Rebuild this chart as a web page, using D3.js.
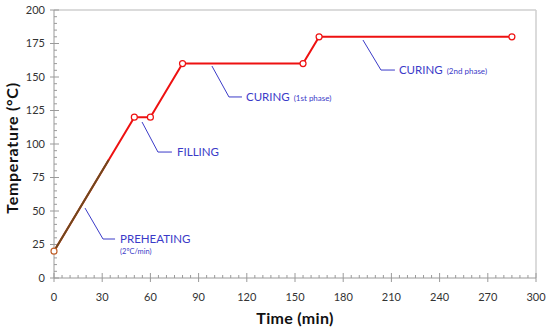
<!DOCTYPE html>
<html><head><meta charset="utf-8">
<script src="https://cdn.jsdelivr.net/npm/d3@7"></script>
<style>body{margin:0;background:#fff}svg{display:block}text{font-family:Lato,"Noto Sans",sans-serif}</style>
</head><body><svg id="c" width="550" height="331"></svg>
<script>
const times = [0, 50, 60, 80, 155, 165, 285];
const temps = [20, 120, 120, 160, 160, 180, 180];
const preheatTimes = [0, 34];
const preheatTemps = [20, 88];
const xTicks = [0,30,60,90,120,150,180,210,240,270,300];
const yTicks = [0,25,50,75,100,125,150,175,200];
// leader lines: start (t0,v0) -> bend (tb,vb) -> end te; text at tt
const labels = [
  {main:"PREHEATING", sub:"(2ºC/min)", t0:19.3, v0:52.2, tb:30.5, vb:29.1, te:38, tt:41.1, subBelow:true},
  {main:"FILLING", sub:"", t0:54.8, v0:116.4, tb:64.7, vb:94, te:73.4, tt:76.6},
  {main:"CURING", sub:"(1st phase)", t0:98.3, v0:158.2, tb:108.9, vb:135.1, te:117, tt:119.5},
  {main:"CURING", sub:"(2nd phase)", t0:192.3, v0:177.6, tb:203.5, vb:155.2, te:212.2, tt:214.7}
];

const svg = d3.select("#c");
const m = {l:54, r:14, t:10, b:53};
const W = 550, H = 331;
const x = d3.scaleLinear().domain([0,300]).range([m.l, W-m.r]);
const y = d3.scaleLinear().domain([0,200]).range([H-m.b, m.t]);

// frame top/right
svg.append("line").attr("x1",x(0)).attr("x2",x(300)).attr("y1",y(200)).attr("y2",y(200)).attr("stroke","#cfcfcf").attr("stroke-width",1.5);
svg.append("line").attr("x1",x(300)).attr("x2",x(300)).attr("y1",y(200)).attr("y2",y(0)).attr("stroke","#cfcfcf").attr("stroke-width",1.5);

const axColor = "#9a9a9a";
const xMinor = d3.range(0,301,5).filter(v=>v%30!==0);
const yMinor = d3.range(0,201,5).filter(v=>v%25!==0);
const gx = svg.append("g").attr("transform",`translate(0,${y(0)})`);
gx.append("line").attr("x1",x(0)).attr("x2",x(300)).attr("stroke",axColor);
gx.selectAll(".mi").data(xMinor).join("line").attr("x1",d=>x(d)).attr("x2",d=>x(d)).attr("y1",0).attr("y2",-3).attr("stroke",axColor);
gx.selectAll(".ma").data(xTicks).join("line").attr("x1",d=>x(d)).attr("x2",d=>x(d)).attr("y1",4).attr("y2",-5).attr("stroke",axColor);
gx.selectAll("text").data(xTicks).join("text").attr("x",d=>x(d)).attr("y",23).attr("text-anchor","middle").attr("font-size",11).attr("fill","#333").text(d=>d);

const gy = svg.append("g").attr("transform",`translate(${x(0)},0)`);
gy.append("line").attr("y1",y(0)).attr("y2",y(200)).attr("stroke",axColor);
gy.selectAll(".mi").data(yMinor).join("line").attr("y1",d=>y(d)).attr("y2",d=>y(d)).attr("x1",0).attr("x2",3).attr("stroke",axColor);
gy.selectAll(".ma").data(yTicks).join("line").attr("y1",d=>y(d)).attr("y2",d=>y(d)).attr("x1",-4).attr("x2",5).attr("stroke",axColor);
gy.selectAll("text").data(yTicks).join("text").attr("x",-9).attr("y",d=>y(d)).attr("dy","0.35em").attr("text-anchor","end").attr("font-size",11).attr("fill","#333").text(d=>d);

// axis titles
svg.append("text").attr("x",(x(0)+x(300))/2).attr("y",324).attr("text-anchor","middle").attr("font-size",16).attr("font-weight","bold").attr("letter-spacing",0.3).attr("fill","#111").text("Time (min)");
svg.append("text").attr("transform",`translate(18,${(y(0)+y(200))/2+4}) rotate(-90)`).attr("text-anchor","middle").attr("font-size",16).attr("font-weight","bold").attr("letter-spacing",0.7).attr("fill","#111").text("Temperature (°C)");

// annotations
const blue = "#3b3bc8";
labels.forEach(L=>{
  svg.append("path").attr("d",`M${x(L.t0)},${y(L.v0)}L${x(L.tb)},${y(L.vb)}H${x(L.te)}`).attr("fill","none").attr("stroke",blue).attr("stroke-width",1);
  const t = svg.append("text").attr("x",x(L.tt)).attr("y",y(L.vb)).attr("dy","0.35em").attr("font-size",11.5).attr("fill",blue).text(L.main);
  if(L.sub){
    if(L.subBelow){
      svg.append("text").attr("x",x(L.tt)).attr("y",y(L.vb)+12).attr("dy","0.35em").attr("font-size",7.5).attr("fill",blue).text(L.sub);
    } else {
      t.append("tspan").attr("font-size",8).attr("dx",4).text(L.sub);
    }
  }
});

// line
const pts = times.map((t,i)=>[t,temps[i]]);
const line = d3.line().x(d=>x(d[0])).y(d=>y(d[1]));
svg.append("path").datum(pts).attr("d",line).attr("fill","none").attr("stroke","#ee1111").attr("stroke-width",2);
svg.append("path").datum(preheatTimes.map((t,i)=>[t,preheatTemps[i]])).attr("d",line).attr("fill","none").attr("stroke","#6e4a1c").attr("stroke-width",2);
svg.selectAll(".pt").data(pts).join("circle").attr("cx",d=>x(d[0])).attr("cy",d=>y(d[1])).attr("r",3).attr("fill","#fff")
  .attr("stroke",(d,i)=>i===0?"#c0602a":"#ee1111").attr("stroke-width",1.2);
</script></body></html>
